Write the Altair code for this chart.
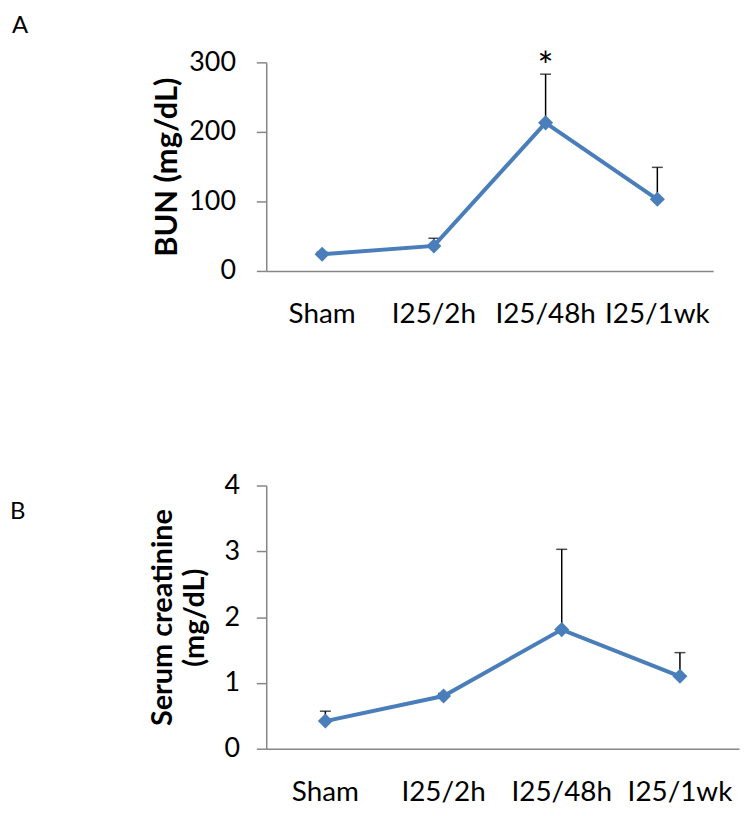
import altair as alt
import pandas as pd

categories = ["Sham", "I25/2h", "I25/48h", "I25/1wk"]
bun_mean = [24, 36, 213, 103]
bun_err = [3, 11, 70, 46]
bun_sig = ["", "", "*", ""]
cre_mean = [0.42, 0.80, 1.81, 1.10]
cre_err = [0.15, 0.04, 1.22, 0.36]
cre_sig = ["", "", "", ""]
panel_labels = ["A", "B"]

BLUE = "#4A7EBB"
FONT = "Lato"


def panel(mean, err, sig, ymax, yticks, ytitle, letter, width, height, lab_pad, title_pad, title_size, lx, ly):
    df = pd.DataFrame({"cat": categories, "mean": mean, "err": err, "sig": sig})
    df["top"] = df["mean"] + df["err"]
    x = alt.X("cat:N", sort=categories, title=None,
              axis=alt.Axis(labelAngle=0, ticks=False, tickSize=0, labelPadding=30, labelFontSize=28,
                            domainColor="#868686", domainWidth=1.5))
    yscale = alt.Scale(domain=[0, ymax], nice=False)
    yaxis = alt.Axis(values=yticks, format="d", title=ytitle, tickSize=10,
                     labelPadding=lab_pad, titlePadding=title_pad, titleFontSize=title_size,
                     domainColor="#868686", tickColor="#868686",
                     domainWidth=1.5, tickWidth=1.5, grid=False)
    base = alt.Chart(df)
    rule = base.mark_rule(color="black", strokeWidth=1.5).encode(
        x=x, y=alt.Y("mean:Q", scale=yscale, axis=yaxis), y2="top:Q")
    cap = base.mark_tick(color="black", size=11, thickness=1.5).encode(
        x=x, y=alt.Y("top:Q", scale=yscale))
    line = base.mark_line(color=BLUE, strokeWidth=4).encode(
        x=x, y=alt.Y("mean:Q", scale=yscale))
    pts = base.mark_point(shape="diamond", filled=True, color=BLUE, size=230, opacity=1).encode(
        x=x, y=alt.Y("mean:Q", scale=yscale))
    star = base.mark_text(font=FONT, fontSize=38, fontWeight="normal", dy=-5, baseline="middle", color="black").encode(
        x=x, y=alt.Y("top:Q", scale=yscale), text="sig:N")
    lab = alt.Chart(pd.DataFrame({"label": [letter]})).mark_text(
        font=FONT, fontSize=24, align="left", baseline="alphabetic", color="black").encode(
        x=alt.value(lx), y=alt.value(ly), text="label:N")
    return alt.layer(rule, cap, line, pts, star, lab).properties(width=width, height=height)


chA = panel(bun_mean, bun_err, bun_sig, 300, [0, 100, 200, 300], "BUN (mg/dL)",
            panel_labels[0], 450, 210, 21, 5, 31, -256, -30)
chB = panel(cre_mean, cre_err, cre_sig, 4, [0, 1, 2, 3, 4], ["Serum creatinine", "(mg/dL)"],
            panel_labels[1], 476, 265, 17, 14, 29, -258, 34)

chart = alt.vconcat(chA, chB, spacing=144).properties(
    padding={"left": 2, "top": 3, "right": 5, "bottom": 5}
).configure_view(stroke=None).configure_axis(
    labelFont=FONT, labelFontSize=27, labelColor="black",
    titleFont=FONT, titleFontSize=28, titleFontWeight="bold", titleColor="black",
    titleLineHeight=33,
)

chart.save("out.html", embed_options={"renderer": "svg", "actions": False})
